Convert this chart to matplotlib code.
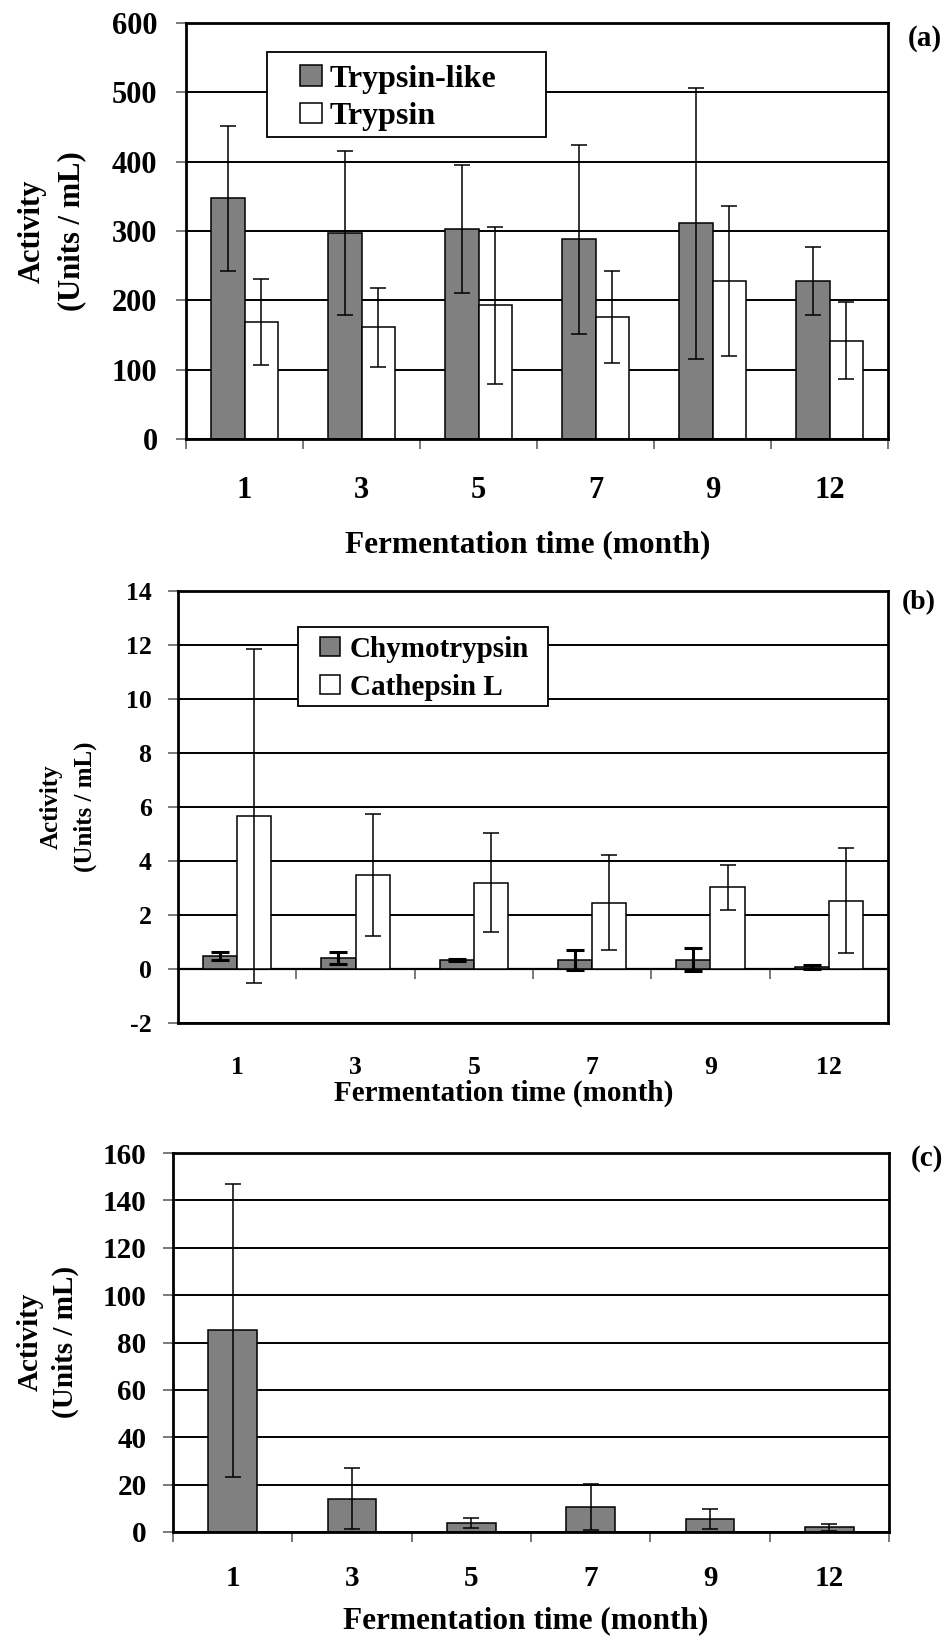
import numpy as np
import matplotlib
matplotlib.use('Agg')
import matplotlib.pyplot as plt
from matplotlib.patches import Rectangle

# data
months = ['1', '3', '5', '7', '9', '12']

trypsin_like = [347, 297, 303, 288, 311, 228]
trypsin_like_err = [105, 118, 92, 136, 195, 49]
trypsin = [169, 161, 193, 176, 228, 142]
trypsin_err = [62, 57, 113, 67, 108, 56]

chymotrypsin = [0.48, 0.41, 0.34, 0.34, 0.34, 0.08]
chymotrypsin_err = [0.15, 0.22, 0.04, 0.36, 0.42, 0.07]
cathepsin_l = [5.66, 3.47, 3.20, 2.46, 3.02, 2.53]
cathepsin_l_err = [6.18, 2.26, 1.83, 1.77, 0.83, 1.94]

activity_c = [85.2, 14.1, 3.8, 10.6, 5.5, 2.0]
activity_c_err = [61.8, 12.8, 2.0, 9.8, 4.3, 1.5]

W, H = 951, 1639
GRAY = '#808080'

plt.rcParams['font.family'] = ['Liberation Serif', 'DejaVu Serif']
plt.rcParams['font.weight'] = 'bold'

fig = plt.figure(figsize=(W / 100, H / 100), dpi=100)


def rect(left, top, right, bottom):
    # pixel box -> figure fraction
    return [left / W, 1 - bottom / H, (right - left) / W, (bottom - top) / H]


def ftext(x, y, s, **kw):
    fig.text(x / W, 1 - y / H, s, ha='center', va='center', **kw)


def style(ax, ylim, yticks, fs, ypad, xpad, boundary_ticks=True):
    x = np.arange(len(months))
    ax.set_xlim(-0.5, len(months) - 0.5)
    ax.set_ylim(*ylim)
    ax.set_yticks(yticks)
    ax.set_yticklabels([str(v) for v in yticks], fontsize=fs, fontweight='bold')
    ax.set_xticks(x)
    ax.set_xticklabels(months, fontsize=fs, fontweight='bold')
    ax.tick_params(axis='x', which='major', length=0, pad=xpad)
    ax.tick_params(axis='y', which='major', length=7.5, width=1.1, color='#555555',
                   direction='out', pad=ypad)
    if boundary_ticks:
        ax.set_xticks(np.arange(-0.5, len(months)), minor=True)
        ax.tick_params(axis='x', which='minor', length=7.5, width=1.1,
                       color='#555555', direction='out')
    ax.grid(axis='y', color='black', linewidth=1.4)
    ax.set_axisbelow(True)
    for sp in ax.spines.values():
        sp.set_linewidth(2.0)
        sp.set_color('black')


def legend_box(ax, box, anchor, size, spacing, textpad):
    # white framed box behind the legend entries (hides the grid line)
    ax.add_patch(Rectangle(box[:2], box[2], box[3], transform=ax.transAxes,
                           facecolor='white', edgecolor='black', linewidth=1.3,
                           zorder=4))
    ax.legend(loc='upper left', bbox_to_anchor=anchor, frameon=False,
              borderaxespad=0, borderpad=0, handlelength=0.69, handleheight=0.62,
              handletextpad=textpad, labelspacing=spacing,
              prop={'size': size, 'weight': 'bold'})


x = np.arange(len(months))
w = 0.29

# ---------- (a) ----------
ax_a = fig.add_axes(rect(186, 23, 888, 439))
ax_a.bar(x - w / 2, trypsin_like, w, yerr=trypsin_like_err, color=GRAY,
         edgecolor='black', linewidth=1.1, capsize=6, label='Trypsin-like',
         error_kw=dict(elinewidth=1.1, capthick=1.1, ecolor='black'))
ax_a.bar(x + w / 2, trypsin, w, yerr=trypsin_err, color='white',
         edgecolor='black', linewidth=1.1, capsize=6, label='Trypsin',
         error_kw=dict(elinewidth=1.1, capthick=1.1, ecolor='black'))
style(ax_a, (0, 600), list(range(0, 601, 100)), 22, 13, 27)
legend_box(ax_a, (0.1154, 0.726, 0.397, 0.2043), (0.162, 0.900), 23, 0.27, 0.25)
ftext(52, 231, 'Activity\n(Units / mL)', rotation=90, fontsize=22,
      fontweight='bold', linespacing=1.45)
ftext(528, 545, 'Fermentation time (month)', fontsize=22.5, fontweight='bold')
ftext(925, 38, '(a)', fontsize=21, fontweight='bold')

# ---------- (b) ----------
ax_b = fig.add_axes(rect(178, 591, 888, 1023))
ax_b.bar(x - w / 2, chymotrypsin, w, yerr=chymotrypsin_err, color=GRAY,
         edgecolor='black', linewidth=1.1, capsize=6.5, label='Chymotrypsin',
         error_kw=dict(elinewidth=2.2, capthick=2.2, ecolor='black'))
ax_b.bar(x + w / 2, cathepsin_l, w, yerr=cathepsin_l_err, color='white',
         edgecolor='black', linewidth=1.1, capsize=5.8, label='Cathepsin L',
         error_kw=dict(elinewidth=1.1, capthick=1.1, ecolor='black'))
style(ax_b, (-2, 14), list(range(-2, 15, 2)), 18.5, 11.5, 24, boundary_ticks=False)
# axis line at zero with the category boundary ticks
zero = ax_b.secondary_xaxis((0 - (-2)) / 16)
zero.set_xticks(np.arange(0.5, len(months) - 1))
zero.set_xticklabels([])
zero.tick_params(length=7.5, width=1.1, color='#555555', direction='out')
zero.spines['bottom'].set_linewidth(1.6)
legend_box(ax_b, (0.169, 0.734, 0.352, 0.183), (0.200, 0.896), 21, 0.37, 0.34)
ftext(68, 807, 'Activity\n(Units / mL)', rotation=90, fontsize=18,
      fontweight='bold', linespacing=1.6)
ftext(504, 1093, 'Fermentation time (month)', fontsize=21, fontweight='bold')
ftext(919, 603, '(b)', fontsize=20, fontweight='bold')

# ---------- (c) ----------
ax_c = fig.add_axes(rect(173, 1153, 889, 1532))
ax_c.bar(x, activity_c, 0.41, yerr=activity_c_err, color=GRAY,
         edgecolor='black', linewidth=1.1, capsize=6,
         error_kw=dict(elinewidth=1.1, capthick=1.1, ecolor='black'))
style(ax_c, (0, 160), list(range(0, 161, 20)), 21, 11.5, 24)
ftext(48, 1342, 'Activity\n(Units / mL)', rotation=90, fontsize=21,
      fontweight='bold', linespacing=1.4)
ftext(526, 1621, 'Fermentation time (month)', fontsize=22.5, fontweight='bold')
ftext(927, 1158, '(c)', fontsize=21, fontweight='bold')

fig.savefig('out.png', dpi=100)
plt.close('all')
